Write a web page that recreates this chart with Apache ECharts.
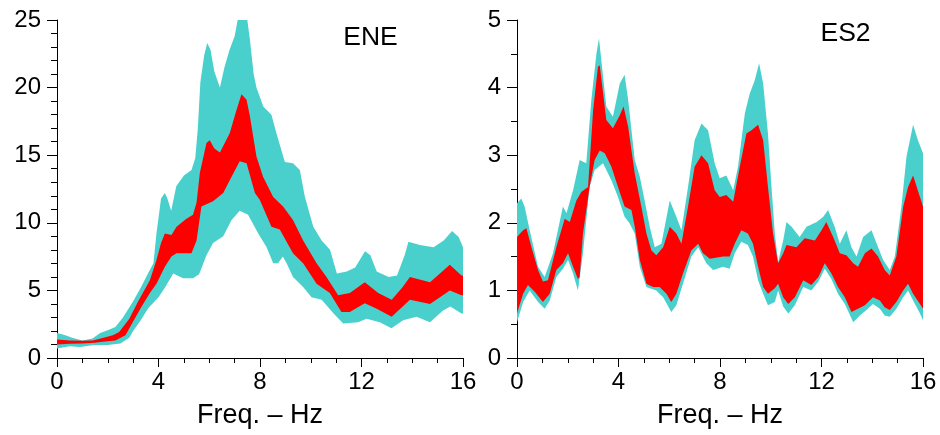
<!DOCTYPE html>
<html>
<head>
<meta charset="utf-8">
<script src="https://cdn.jsdelivr.net/npm/echarts@6/dist/echarts.min.js"></script>
<style>
  html, body { margin: 0; padding: 0; background: #fff; }
  #chart { width: 940px; height: 435px; }
</style>
</head>
<body>
<div id="chart"></div>
<script>
// Spectral ratio bands: [frequency (Hz), amplitude] pairs for each band edge.

// ---- ENE station ----
const eneOuterUpper = [
  [0, 1.85], [0.3, 1.7], [0.6, 1.5], [1.0, 1.3], [1.4, 1.45], [1.7, 1.85], [2.0, 2.05], [2.3, 2.3],
  [2.6, 3.0], [3.0, 4.2], [3.3, 5.2], [3.6, 6.3], [3.8, 7.0], [3.92, 9.2], [4.1, 11.8], [4.25, 12.2],
  [4.35, 11.8], [4.5, 10.9], [4.7, 12.7], [5.0, 13.5], [5.3, 13.9], [5.45, 14.8], [5.55, 17.0],
  [5.65, 20.4], [5.8, 22.4], [5.92, 23.3], [6.05, 22.8], [6.2, 21.2], [6.42, 20.0], [6.6, 21.5],
  [6.8, 22.8], [7.0, 23.8], [7.12, 25], [7.5, 25], [7.6, 23.6], [7.75, 21.0], [7.86, 20.0],
  [8.13, 18.6], [8.45, 18.0], [8.65, 16.6], [8.98, 14.5], [9.3, 14.4], [9.57, 13.9], [9.77, 11.9],
  [10.1, 9.7], [10.43, 8.7], [10.76, 8.0], [11.03, 6.25], [11.42, 6.4], [11.75, 6.7], [12.14, 7.9],
  [12.35, 7.6], [12.6, 6.4], [13.07, 6.0], [13.4, 6.1], [13.7, 7.6], [13.85, 8.6], [14.3, 8.35],
  [14.84, 8.2], [15.24, 8.7], [15.57, 9.4], [15.83, 8.95], [16, 8.2]
];
const eneOuterLower = [
  [0, 0.7], [0.5, 0.87], [0.9, 0.82], [1.4, 0.94], [2.0, 0.96], [2.5, 1.07], [2.85, 1.5], [3.0, 2.0],
  [3.3, 2.8], [3.6, 3.7], [4.0, 4.5], [4.25, 5.2], [4.58, 6.25], [4.97, 5.9], [5.36, 5.9], [5.6, 6.2],
  [5.89, 7.6], [6.15, 8.5], [6.55, 9.0], [6.88, 10.2], [7.2, 10.9], [7.53, 10.6], [7.93, 9.2],
  [8.26, 8.2], [8.52, 7.0], [8.71, 7.0], [8.9, 7.5], [9.05, 7.0], [9.3, 6.0], [9.7, 5.25],
  [10.03, 4.5], [10.43, 4.3], [10.9, 3.3], [11.28, 2.55], [11.86, 2.65], [12.2, 2.9], [12.72, 2.65],
  [13.18, 2.2], [13.64, 2.8], [14.17, 3.05], [14.7, 2.65], [15.2, 3.5], [15.5, 3.8], [15.94, 3.3],
  [16, 3.3]
];
const eneInnerUpper = [
  [0, 1.36], [0.5, 1.29], [1.0, 1.27], [1.4, 1.3], [1.68, 1.43], [2.2, 1.68], [2.45, 1.93],
  [2.85, 2.9], [3.2, 4.2], [3.66, 5.75], [3.92, 7.25], [4.1, 8.5], [4.25, 9.2], [4.51, 9.1],
  [4.71, 9.7], [5.1, 10.3], [5.36, 10.6], [5.5, 11.5], [5.63, 13.7], [5.89, 15.9], [6.02, 16.1],
  [6.2, 15.5], [6.42, 15.2], [6.81, 16.65], [7.05, 18.2], [7.27, 19.5], [7.47, 19.1], [7.6, 17.9],
  [7.86, 14.9], [8.12, 13.4], [8.52, 11.9], [8.91, 11.2], [9.3, 10.2], [9.7, 8.7], [10.23, 7.0],
  [10.62, 6.0], [11.08, 4.65], [11.54, 4.8], [12.13, 5.6], [12.66, 4.8], [13.19, 4.3], [13.6, 5.2],
  [13.91, 6.0], [14.7, 5.6], [15.48, 6.9], [15.94, 6.1], [16, 6.1]
];
const eneInnerLower = [
  [0, 1.0], [0.5, 1.05], [1.0, 1.07], [1.5, 1.12], [1.8, 1.2], [2.3, 1.3], [2.7, 1.68], [3.0, 2.7],
  [3.3, 3.7], [3.66, 4.8], [3.92, 5.5], [4.25, 6.75], [4.51, 7.5], [4.71, 7.75], [5.3, 7.75],
  [5.5, 8.7], [5.69, 11.2], [6.15, 11.6], [6.55, 12.2], [6.88, 13.4], [7.2, 14.55], [7.47, 14.4],
  [7.8, 12.2], [7.99, 11.7], [8.45, 9.7], [8.78, 9.5], [9.3, 7.75], [9.7, 7.0], [10.23, 5.5],
  [10.75, 4.8], [11.21, 3.4], [11.54, 3.4], [12.13, 4.05], [12.6, 3.65], [13.19, 3.05], [13.91, 4.3],
  [14.7, 4.0], [15.48, 5.0], [15.94, 4.65], [16, 4.65]
];

// ---- ES2 station ----
const es2OuterUpper = [
  [0, 2.29], [0.17, 2.36], [0.3, 2.24], [0.5, 1.89], [0.83, 1.35], [1.09, 1.2], [1.42, 1.55],
  [1.81, 2.24], [1.95, 2.14], [2.21, 2.48], [2.47, 2.93], [2.73, 2.88], [2.93, 3.82], [3.13, 4.5],
  [3.23, 4.73], [3.52, 3.72], [3.78, 3.57], [4.05, 4.06], [4.24, 4.19], [4.38, 3.82], [4.64, 2.93],
  [4.84, 2.68], [5.03, 2.33], [5.23, 1.94], [5.43, 1.64], [5.69, 1.69], [6.02, 2.33], [6.28, 2.09],
  [6.48, 1.89], [6.74, 2.53], [7.0, 3.22], [7.27, 3.47], [7.53, 3.37], [7.79, 2.88], [7.99, 2.66],
  [8.25, 2.7], [8.52, 2.48], [8.71, 2.83], [8.98, 3.62], [9.17, 3.91], [9.37, 4.11], [9.54, 4.36],
  [9.7, 4.06], [9.89, 3.32], [10.03, 2.53], [10.16, 1.84], [10.29, 1.42], [10.49, 1.74],
  [10.62, 2.01], [10.82, 1.94], [11.14, 1.79], [11.41, 1.94], [11.81, 2.01], [12.07, 2.09],
  [12.26, 2.19], [12.52, 1.94], [12.72, 1.69], [12.98, 1.89], [13.18, 1.64], [13.38, 1.5],
  [13.64, 1.79], [13.97, 1.89], [14.23, 1.64], [14.43, 1.45], [14.69, 1.3], [14.89, 1.5],
  [15.15, 2.24], [15.35, 2.98], [15.61, 3.45], [15.8, 3.22], [16, 3.03]
];
const es2OuterLower = [
  [0, 0.53], [0.24, 0.83], [0.5, 1.0], [0.83, 0.83], [1.09, 0.73], [1.29, 0.85], [1.55, 1.2],
  [1.81, 1.32], [2.01, 1.45], [2.21, 1.25], [2.4, 1.0], [2.6, 1.55], [2.86, 2.53], [3.06, 2.78],
  [3.39, 2.88], [3.72, 2.63], [3.98, 2.38], [4.24, 2.09], [4.44, 1.99], [4.64, 1.84], [4.84, 1.35],
  [5.1, 1.05], [5.49, 1.0], [5.76, 0.9], [6.08, 0.68], [6.28, 0.78], [6.54, 1.1], [6.87, 1.5],
  [7.14, 1.64], [7.46, 1.4], [7.73, 1.3], [8.12, 1.35], [8.38, 1.32], [8.58, 1.55], [8.84, 1.72],
  [9.1, 1.67], [9.3, 1.5], [9.5, 1.15], [9.7, 0.95], [9.89, 0.78], [10.16, 0.83], [10.29, 1.0],
  [10.49, 0.76], [10.69, 0.66], [10.95, 0.78], [11.28, 1.05], [11.6, 1.0], [11.88, 1.13],
  [12.13, 1.32], [12.39, 1.17], [12.65, 0.95], [12.92, 0.8], [13.25, 0.53], [13.51, 0.63],
  [13.77, 0.71], [14.03, 0.8], [14.3, 0.73], [14.49, 0.63], [14.69, 0.61], [14.95, 0.73],
  [15.22, 0.9], [15.41, 1.0], [15.61, 0.85], [15.88, 0.66], [16, 0.56]
];
const es2InnerUpper = [
  [0, 1.79], [0.24, 1.89], [0.37, 1.92], [0.57, 1.64], [0.83, 1.3], [1.02, 1.13], [1.22, 1.15],
  [1.55, 1.64], [1.88, 2.06], [2.08, 2.01], [2.34, 2.33], [2.54, 2.46], [2.8, 2.53], [3.0, 3.67],
  [3.19, 4.31], [3.26, 4.33], [3.52, 3.52], [3.78, 3.4], [4.05, 3.59], [4.2, 3.72], [4.38, 3.42],
  [4.64, 2.73], [4.9, 2.24], [5.1, 1.84], [5.3, 1.59], [5.49, 1.52], [5.76, 1.64], [6.02, 1.94],
  [6.28, 1.84], [6.48, 1.69], [6.74, 2.24], [7.0, 2.83], [7.27, 3.0], [7.53, 2.88], [7.79, 2.48],
  [7.99, 2.38], [8.25, 2.41], [8.52, 2.31], [8.78, 2.83], [9.04, 3.32], [9.24, 3.37], [9.5, 3.45],
  [9.7, 3.22], [9.89, 2.53], [10.09, 1.84], [10.29, 1.4], [10.49, 1.55], [10.62, 1.67],
  [11.01, 1.64], [11.34, 1.77], [11.74, 1.74], [12.0, 1.89], [12.19, 2.01], [12.46, 1.79],
  [12.72, 1.55], [12.98, 1.52], [13.25, 1.4], [13.44, 1.35], [13.71, 1.55], [13.97, 1.62],
  [14.23, 1.5], [14.49, 1.3], [14.69, 1.22], [14.95, 1.5], [15.22, 2.24], [15.41, 2.53],
  [15.61, 2.7], [15.88, 2.38], [16, 2.24]
];
const es2InnerLower = [
  [0, 0.66], [0.24, 0.95], [0.43, 1.08], [0.7, 0.98], [1.02, 0.83], [1.29, 0.95], [1.55, 1.3],
  [1.81, 1.4], [2.01, 1.55], [2.21, 1.35], [2.4, 1.17], [2.47, 1.2], [2.6, 1.84], [2.86, 2.53],
  [3.06, 2.93], [3.26, 3.07], [3.46, 3.03], [3.72, 2.83], [3.98, 2.53], [4.24, 2.24], [4.51, 2.19],
  [4.64, 1.94], [4.84, 1.45], [5.1, 1.1], [5.36, 1.05], [5.62, 1.05], [5.89, 0.95], [6.08, 0.83],
  [6.28, 0.95], [6.54, 1.25], [6.87, 1.59], [7.14, 1.69], [7.33, 1.55], [7.6, 1.47], [8.12, 1.5],
  [8.38, 1.5], [8.58, 1.69], [8.84, 1.89], [9.1, 1.84], [9.3, 1.69], [9.5, 1.35], [9.7, 1.05],
  [9.89, 0.95], [10.16, 1.03], [10.29, 1.1], [10.49, 0.9], [10.69, 0.8], [10.95, 0.9], [11.28, 1.15],
  [11.6, 1.08], [11.88, 1.2], [12.13, 1.4], [12.39, 1.25], [12.65, 1.05], [12.92, 0.9],
  [13.18, 0.68], [13.44, 0.73], [13.71, 0.78], [14.03, 0.9], [14.3, 0.85], [14.49, 0.75],
  [14.69, 0.71], [14.95, 0.83], [15.22, 1.0], [15.41, 1.1], [15.61, 0.95], [15.88, 0.8], [16, 0.73]
];

// Axis ticks
const freqTicks = { min: 0, max: 16, interval: 4 };
const eneTicks = { min: 0, max: 25, interval: 5, minorSplit: 5 };
const es2Ticks = { min: 0, max: 5, interval: 1, minorSplit: 2 };

const panelTitles = ['ENE', 'ES2'];
const axisName = 'Freq. \u2013 Hz';

const CYAN = '#49d0cc';
const RED = '#ff0000';
const FONT = '"Liberation Sans", Arial, Helvetica, sans-serif';

// Filled band between two edges, projected through the cartesian axes.
function band(idx, upper, lower, color, z) {
  return {
    type: 'custom',
    coordinateSystem: 'cartesian2d',
    xAxisIndex: idx,
    yAxisIndex: idx,
    silent: true,
    z: z,
    data: [[upper[0][0], upper[0][1]]],
    renderItem: function (params, api) {
      const pts = upper.map(p => api.coord(p))
        .concat(lower.slice().reverse().map(p => api.coord(p)));
      const cs = params.coordSys;
      return {
        type: 'polygon',
        shape: { points: pts },
        style: { fill: color, stroke: null },
        clipPath: { type: 'rect', shape: { x: cs.x, y: cs.y, width: cs.width, height: cs.height } }
      };
    }
  };
}

function xAxis(gridIndex) {
  return {
    type: 'value', gridIndex: gridIndex,
    min: freqTicks.min, max: freqTicks.max, interval: freqTicks.interval,
    axisLine: { show: true, lineStyle: { color: '#000', width: 1 } },
    axisTick: { show: true, length: 9, lineStyle: { color: '#000', width: 1 } },
    minorTick: { show: true, splitNumber: 4, length: 5, lineStyle: { color: '#000', width: 1 } },
    splitLine: { show: false },
    axisLabel: { fontSize: 24, color: '#000', fontFamily: FONT, margin: 12 },
    name: axisName, nameLocation: 'middle', nameGap: 44,
    nameTextStyle: { fontSize: 27, color: '#000', fontFamily: FONT }
  };
}

function yAxis(gridIndex, t) {
  return {
    type: 'value', gridIndex: gridIndex,
    min: t.min, max: t.max, interval: t.interval,
    axisLine: { show: true, lineStyle: { color: '#000', width: 1 } },
    axisTick: { show: true, length: 10, lineStyle: { color: '#000', width: 1 } },
    minorTick: { show: true, splitNumber: t.minorSplit, length: 6, lineStyle: { color: '#000', width: 1 } },
    splitLine: { show: false },
    axisLabel: { fontSize: 24, color: '#000', fontFamily: FONT, margin: 16 }
  };
}

const chart = echarts.init(document.getElementById('chart'), null, { renderer: 'canvas' });
chart.setOption({
  backgroundColor: '#fff',
  animation: false,
  grid: [
    { left: 57, top: 20, width: 406, height: 338 },
    { left: 517, top: 20, width: 406, height: 338 }
  ],
  xAxis: [xAxis(0), xAxis(1)],
  yAxis: [yAxis(0, eneTicks), yAxis(1, es2Ticks)],
  graphic: [
    { type: 'text', x: 370.5, y: 37.5, style: { text: panelTitles[0], font: '26.5px ' + FONT, fill: '#000',
      textAlign: 'center', textVerticalAlign: 'middle', align: 'center', verticalAlign: 'middle' } },
    { type: 'text', x: 845.5, y: 33.5, style: { text: panelTitles[1], font: '26.5px ' + FONT, fill: '#000',
      textAlign: 'center', textVerticalAlign: 'middle', align: 'center', verticalAlign: 'middle' } }
  ],
  series: [
    band(0, eneOuterUpper, eneOuterLower, CYAN, 1),
    band(0, eneInnerUpper, eneInnerLower, RED, 2),
    band(1, es2OuterUpper, es2OuterLower, CYAN, 1),
    band(1, es2InnerUpper, es2InnerLower, RED, 2)
  ]
});
</script>
</body>
</html>
